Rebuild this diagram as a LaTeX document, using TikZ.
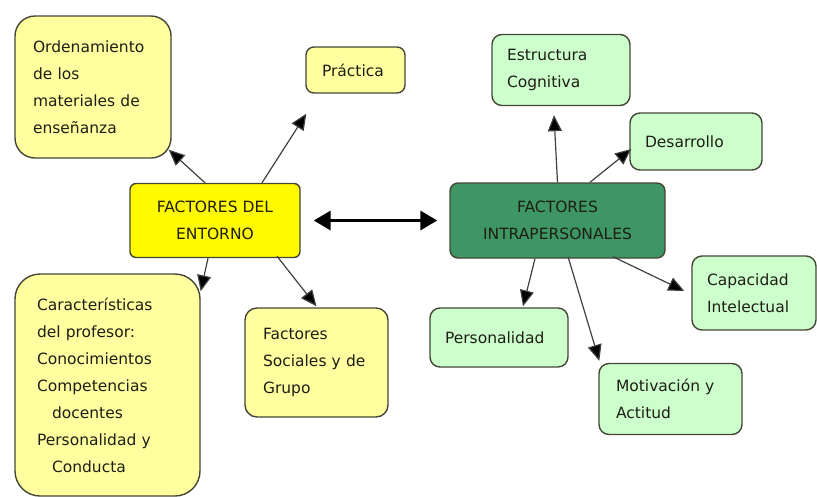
\documentclass[tikz,border=0pt]{standalone}
\usepackage{fontspec}
\setmainfont{DejaVu Sans}
\usetikzlibrary{arrows.meta}
\definecolor{lyel}{RGB}{255,255,160}
\definecolor{byel}{RGB}{255,250,0}
\definecolor{lgrn}{RGB}{204,255,204}
\definecolor{dgrn}{RGB}{62,150,100}
\definecolor{bord}{RGB}{70,70,55}
\definecolor{txt}{RGB}{30,30,20}
\tikzset{
  box/.style={draw=bord, line width=1.4pt, align=left, inner ysep=0pt,
    font=\fontsize{15.5}{27}\selectfont, text=txt},
  ybox/.style={box, fill=lyel},
  gbox/.style={box, fill=lgrn},
  con/.style={draw=black!75, line width=1.2pt, -{Triangle[length=16pt,width=14pt,fill=black]}},
  big/.style={draw=black, line width=3.5pt, {Triangle[length=17pt,width=19pt]}-{Triangle[length=17pt,width=19pt]}}
}
\begin{document}
\begin{tikzpicture}[x=1pt,y=-1pt]
\useasboundingbox (0,0) rectangle (817,496);
\clip (0,0) rectangle (817,496);
% yellow side
\node[ybox, rounded corners=20pt, minimum width=156pt, minimum height=142pt, inner xsep=18pt, text width=120pt] (ord) at (93,87) {Ordenamiento\\de los\\materiales de\\enseñanza};
\node[ybox, rounded corners=8pt, minimum width=99pt, minimum height=46pt, inner xsep=16pt, text width=67pt] (prac) at (355.5,70) {Práctica};
\node[box, fill=byel, rounded corners=6pt, minimum width=170pt, minimum height=74pt, inner xsep=10pt, text width=150pt, align=center] (ent) at (215,220.5) {FACTORES DEL\\ENTORNO};
\node[ybox, rounded corners=25pt, minimum width=185pt, minimum height=222pt, inner xsep=22pt, text width=141pt] (car) at (107.5,385) {Características\\del profesor:\\Conocimientos\\Competencias\\\hspace*{15pt}docentes\\Personalidad y\\\hspace*{15pt}Conducta};
\node[ybox, rounded corners=12pt, minimum width=143pt, minimum height=109pt, inner xsep=18pt, text width=107pt] (soc) at (316.5,362.5) {Factores\\Sociales y de\\Grupo};
% green side
\node[box, fill=dgrn, rounded corners=8pt, minimum width=215pt, minimum height=75pt, inner xsep=10pt, text width=195pt, align=center] (intra) at (557.5,220.5) {FACTORES\\INTRAPERSONALES};
\node[gbox, rounded corners=10pt, minimum width=138pt, minimum height=71pt, inner xsep=15pt, text width=108pt] (est) at (561,70) {Estructura\\Cognitiva};
\node[gbox, rounded corners=10pt, minimum width=132pt, minimum height=57pt, inner xsep=15pt, text width=102pt] (des) at (696,141.5) {Desarrollo};
\node[gbox, rounded corners=10pt, minimum width=124pt, minimum height=74pt, inner xsep=15pt, text width=94pt] (cap) at (754,293) {Capacidad\\Intelectual};
\node[gbox, rounded corners=10pt, minimum width=138pt, minimum height=59pt, inner xsep=15pt, text width=108pt] (pers) at (499,337.5) {Personalidad};
\node[gbox, rounded corners=10pt, minimum width=143pt, minimum height=71pt, inner xsep=17pt, text width=109pt] (mot) at (670.5,399) {Motivación y\\Actitud};
% connectors
\draw[con] ([xshift=-10pt]ent.north) -- ([xshift=-3pt,yshift=9pt]ord.south east);
\draw[con] ([xshift=47pt]ent.north) -- ([xshift=1pt,yshift=-20pt]prac.south west);
\draw[con] ([xshift=-7pt]ent.south) -- ([yshift=-18pt]car.north east);
\draw[con] ([xshift=62pt,yshift=2pt]ent.south) -- ([yshift=1pt]soc.north);
\draw[big] ([xshift=13pt]ent.east) -- ([xshift=-12pt]intra.west);
\draw[con] (intra.north) -- ([xshift=-7pt,yshift=-9pt]est.south);
\draw[con] ([xshift=32.5pt]intra.north) -- ([xshift=2pt,yshift=-7.5pt]des.west);
\draw[con] ([xshift=-22.5pt]intra.south) -- ([xshift=24pt,yshift=1pt]pers.north);
\draw[con] ([xshift=10.5pt,yshift=2pt]intra.south) -- ([xshift=1pt,yshift=2pt]mot.north west);
\draw[con] ([xshift=55.5pt,yshift=2pt]intra.south) -- ([xshift=-7pt,yshift=2pt]cap.west);
\end{tikzpicture}
\end{document}
